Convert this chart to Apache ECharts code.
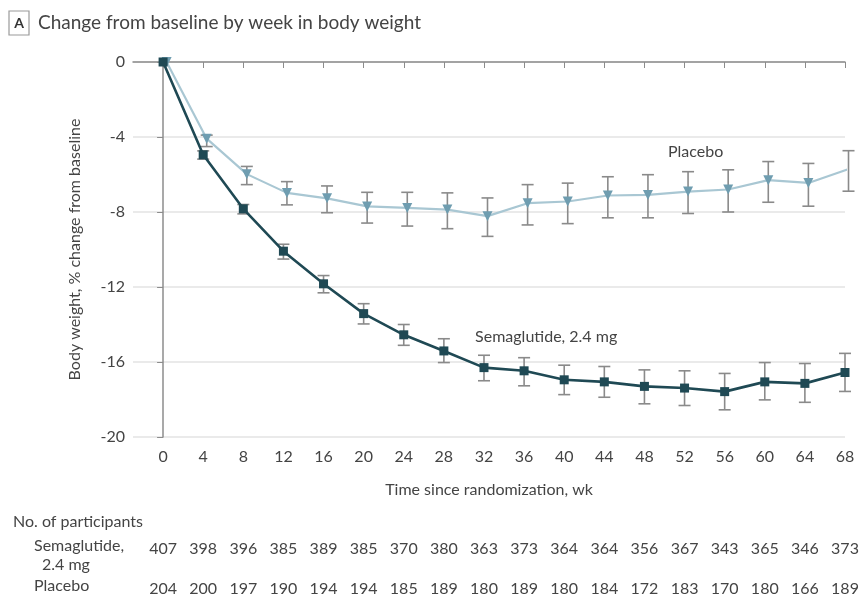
<!DOCTYPE html>
<html><head><meta charset="utf-8">
<script src="https://cdn.jsdelivr.net/npm/echarts@6/dist/echarts.min.js"></script>
<style>html,body{margin:0;padding:0;background:#fff}#c{width:863px;height:597px}</style>
</head><body><div id="c"></div>
<script>
const weeks = [0,4,8,12,16,20,24,28,32,36,40,44,48,52,56,60,64,68];
const yTicks = [0,-4,-8,-12,-16,-20];
const semaMean = [0,-4.95,-7.83,-10.09,-11.83,-13.42,-14.55,-15.41,-16.3,-16.47,-16.95,-17.06,-17.3,-17.39,-17.58,-17.06,-17.14,-16.56];
const semaLow  = [0,-5.18,-8.1,-10.51,-12.31,-13.97,-15.11,-16.03,-17.0,-17.27,-17.74,-17.88,-18.23,-18.32,-18.55,-18.02,-18.15,-17.57];
const semaHigh = [0,-4.74,-7.6,-9.72,-11.39,-12.89,-14.0,-14.76,-15.64,-15.77,-16.17,-16.24,-16.42,-16.47,-16.61,-16.03,-16.08,-15.54];
const placeboMean = [0,-4.09,-5.98,-6.98,-7.27,-7.7,-7.78,-7.87,-8.22,-7.53,-7.44,-7.12,-7.09,-6.91,-6.8,-6.3,-6.45,-5.71];
const placeboLow  = [0,-4.51,-6.54,-7.62,-8.04,-8.59,-8.75,-8.89,-9.3,-8.69,-8.62,-8.31,-8.31,-8.08,-8.0,-7.48,-7.69,-6.89];
const placeboHigh = [0,-3.9,-5.57,-6.38,-6.61,-6.95,-6.95,-6.98,-7.25,-6.54,-6.46,-6.12,-6.01,-5.85,-5.75,-5.31,-5.41,-4.73];
const semaN = [407,398,396,385,389,385,370,380,363,373,364,364,356,367,343,365,346,373];
const placeboN = [204,200,197,190,194,194,185,189,180,189,180,184,172,183,170,180,166,189];

const FONT = 'Lato, "Liberation Sans", sans-serif';
const TXT = '#444444';
const placeboDodge = 0.35;

function errData(low, high, dx) {
  return weeks.map((w, i) => [w + dx, low[i], high[i]]).filter(d => d[1] !== d[2]);
}
function errRender(params, api) {
  const lo = api.coord([api.value(0), api.value(1)]);
  const hi = api.coord([api.value(0), api.value(2)]);
  const cw = 6;
  const st = { stroke: '#8a8a8a', lineWidth: 1.6 };
  return { type: 'group', children: [
    { type: 'line', shape: { x1: lo[0], y1: lo[1], x2: hi[0], y2: hi[1] }, style: st },
    { type: 'line', shape: { x1: lo[0]-cw, y1: lo[1], x2: lo[0]+cw, y2: lo[1] }, style: st },
    { type: 'line', shape: { x1: hi[0]-cw, y1: hi[1], x2: hi[0]+cw, y2: hi[1] }, style: st }
  ]};
}
function countAxis(counts, offset) {
  return {
    type: 'value', min: -3, max: 68, position: 'bottom', offset: offset,
    axisLine: { show: false }, axisTick: { show: false }, splitLine: { show: false },
    axisLabel: { customValues: weeks, color: TXT, fontFamily: FONT, fontSize: 16,
      formatter: v => { const i = weeks.indexOf(v); return i >= 0 ? String(counts[i]) : ''; } }
  };
}
function annot(coord, text) {
  return {
    symbol: 'circle', symbolSize: 1, itemStyle: { color: 'rgba(0,0,0,0)' },
    data: [{ coord: coord, label: { show: true, position: 'inside', formatter: text, color: TXT, fontFamily: FONT, fontSize: 16 } }]
  };
}

const chart = echarts.init(document.getElementById('c'));
chart.setOption({
  animation: false,
  grid: { left: 133, right: 18, top: 62, bottom: 155 },
  xAxis: [{
    type: 'value', min: -3, max: 68,
    name: 'Time since randomization, wk', nameLocation: 'middle', nameGap: 45,
    nameTextStyle: { color: TXT, fontFamily: FONT, fontSize: 16 },
    axisLine: { lineStyle: { color: '#8c8c8c', width: 1.5 } },
    axisTick: { customValues: weeks, length: 6, lineStyle: { color: '#8c8c8c' } },
    axisLabel: { customValues: weeks, color: TXT, fontFamily: FONT, fontSize: 16, margin: 12 },
    splitLine: { show: false }
  }, countAxis(semaN, 96), countAxis(placeboN, 136)],
  yAxis: {
    type: 'value', min: -20, max: 0, interval: 4,
    name: 'Body weight, % change from baseline', nameLocation: 'middle', nameGap: 50,
    nameTextStyle: { color: TXT, fontFamily: FONT, fontSize: 16 },
    axisLine: { show: true, lineStyle: { color: '#8c8c8c', width: 1.5 } },
    axisTick: { show: true, length: 6, lineStyle: { color: '#8c8c8c' } },
    axisLabel: { color: TXT, fontFamily: FONT, fontSize: 16, margin: 8 },
    splitLine: { lineStyle: { color: '#e3e3e3', width: 1.5 } }
  },
  graphic: [
    { type: 'rect', shape: { x: 9, y: 11, width: 20, height: 24 }, style: { fill: '#fff', stroke: '#9a9a9a', lineWidth: 1.2 } },
    { type: 'text', x: 19, y: 23, style: { text: 'A', fill: '#333', font: 'bold 14px ' + FONT, align: 'center', verticalAlign: 'middle' } },
    { type: 'text', x: 38, y: 23, style: { text: 'Change from baseline by week in body weight', fill: TXT, font: '19px ' + FONT, verticalAlign: 'middle' } },
    { type: 'text', x: 13, y: 522, style: { text: 'No. of participants', fill: TXT, font: '16px ' + FONT, verticalAlign: 'middle' } },
    { type: 'text', x: 34, y: 546, style: { text: 'Semaglutide,', fill: TXT, font: '16px ' + FONT, verticalAlign: 'middle' } },
    { type: 'text', x: 42, y: 565, style: { text: '2.4 mg', fill: TXT, font: '16px ' + FONT, verticalAlign: 'middle' } },
    { type: 'text', x: 34, y: 586, style: { text: 'Placebo', fill: TXT, font: '16px ' + FONT, verticalAlign: 'middle' } }
  ],
  series: [
    { type: 'custom', renderItem: errRender, data: errData(placeboLow, placeboHigh, placeboDodge), z: 2, silent: true },
    { type: 'custom', renderItem: errRender, data: errData(semaLow, semaHigh, 0), z: 2, silent: true },
    { name: 'Placebo', type: 'line', z: 3,
      data: weeks.map((w, i) => [w + placeboDodge, placeboMean[i]]),
      symbol: 'triangle', symbolRotate: 180, symbolSize: 10,
      lineStyle: { color: '#a9c7d3', width: 2.2 }, itemStyle: { color: '#6f9db0' },
      markPoint: annot([53.1, -4.8], 'Placebo')
    },
    { name: 'Semaglutide, 2.4 mg', type: 'line', z: 4,
      data: weeks.map((w, i) => [w, semaMean[i]]),
      symbol: 'rect', symbolSize: 9,
      lineStyle: { color: '#1f4954', width: 2.6 }, itemStyle: { color: '#1f4954' },
      markPoint: annot([38.2, -14.65], 'Semaglutide, 2.4 mg')
    }
  ]
});
</script></body></html>
